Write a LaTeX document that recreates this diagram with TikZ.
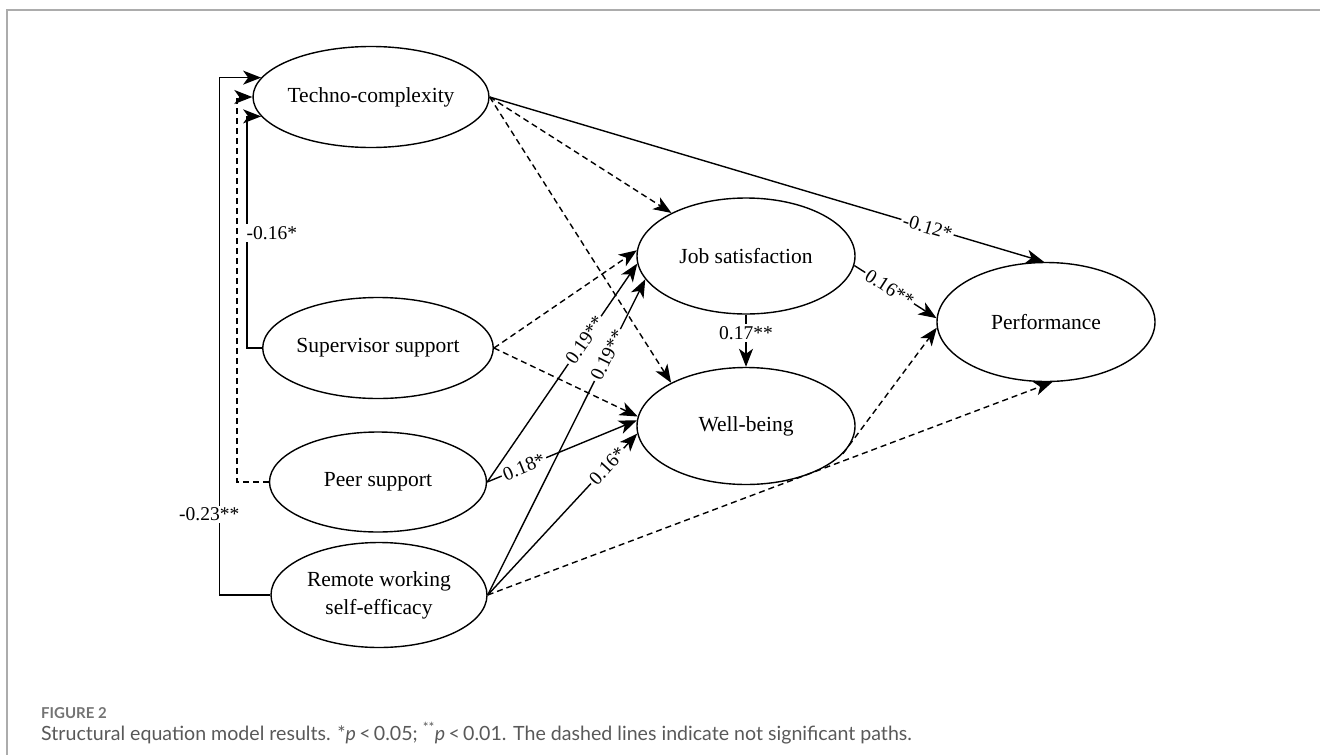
\documentclass[tikz,border=0pt]{standalone}
\usepackage{fontspec}
\setmainfont{Liberation Serif}
\newfontfamily\capfont{Lato}
\usetikzlibrary{arrows.meta,shapes.geometric,positioning}

\begin{document}
\begin{tikzpicture}[x=1pt, y=-1pt,
        latent/.style={ellipse, draw, line width=1.4pt, inner sep=0pt, align=center,
                       font=\fontsize{21.5}{28}\selectfont},
        sig/.style={draw, line width=1.4pt, -{Stealth[length=18pt,width=14pt,inset=5pt]}},
        ns/.style={sig, dash pattern=on 6pt off 4pt},
        coef/.style={fill=white, inner sep=2pt, font=\fontsize{19.5}{22}\selectfont}
    ]
    \useasboundingbox (0,0) rectangle (1320,755);
    \draw[gray!65, line width=2pt] (1320,10) -- (7,10) -- (7,755);

    \node [latent, minimum width=200pt, minimum height=101pt] (tc) at (371,97) {Techno-complexity};
    \node [latent, minimum width=217pt, minimum height=101pt] (ss) at (378,348) {Supervisor support};
    \node [latent, minimum width=217pt, minimum height=100pt] (ps) at (378,482) {Peer support};
    \node [latent, minimum width=216pt, minimum height=105pt] (rw) at (379,595) {Remote working\\self-efficacy};
    \node [latent, minimum width=218pt, minimum height=116pt] (js) at (746,256) {Job satisfaction};
    \node [latent, minimum width=218pt, minimum height=117pt] (wb) at (746,426) {Well-being};
    \node [latent, minimum width=218pt, minimum height=119pt] (pf) at (1046,322) {Performance};

    % not significant
    \draw [ns] (tc.east) -- (js.150);
    \draw [ns] (tc.east) -- (wb.150);
    \draw [ns] (ss.east) -- (js.177);
    \draw [ns] (ss.east) -- (wb.175);
    \draw [ns] (ps.west) -- ++(-32,0) |- (tc.west);
    \draw [ns] (wb.-16) -- (pf.183);
    \draw [ns] (rw.east) -- (pf.-84);

    % significant
    \draw [sig] (rw.west) -- ++(-51,0) |- node[coef, pos=0.078, xshift=-10pt] {-0.23**} (tc.170);
    \draw [sig] (ss.west) -- ++(-15,0) |- node[coef, pos=0.248, anchor=west, xshift=-3pt] {-0.16*} (tc.190);
    \draw [sig] (tc.east) -- node[coef, sloped, pos=0.79] {-0.12*} (pf.92);
    \draw [sig] (js.south) -- node[coef, pos=0.35] {0.17**} (wb.north);
    \draw [sig] (js.-5) -- node[coef, sloped, pos=0.43] {0.16**} (pf.178);
    \draw [sig] (ps.east) -- node[coef, sloped, pos=0.65] {0.19**} (js.184);
    \draw [sig] (ps.east) -- node[coef, sloped, pos=0.245] {0.18*} (wb.177);
    \draw [sig] (rw.east) -- node[coef, sloped, pos=0.76] {0.19**} (js.193);
    \draw [sig] (rw.east) -- node[coef, sloped, pos=0.8] {0.16*} (wb.184);

    % caption
    \node [anchor=base west, inner sep=0pt, text=black!55, font=\capfont\bfseries\fontsize{15}{17}\selectfont] (fig) at (41,718) {FIGURE 2};
    \node [anchor=base west, inner sep=0pt, text=black!65, font=\capfont\fontsize{19.6}{22}\selectfont] (cap) at (41,740)
        {Structural equation model results. *\textit{p}\,<\,0.05; \textsuperscript{**}\textit{p}\,<\,0.01. The dashed lines indicate not significant paths.};
\end{tikzpicture}
\end{document}
